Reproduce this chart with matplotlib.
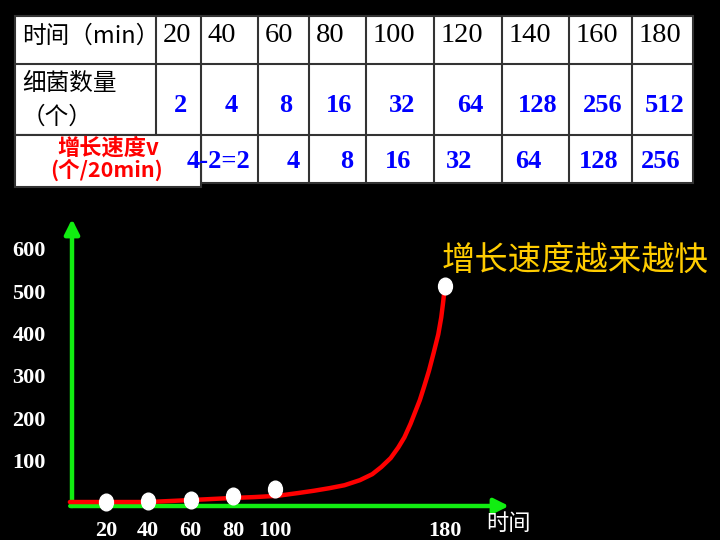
import numpy as np
import matplotlib
matplotlib.use("Agg")
import matplotlib.pyplot as plt
from matplotlib.path import Path
from matplotlib.patches import Rectangle

# table data
times = [20, 40, 60, 80, 100, 120, 140, 160, 180]
counts = [2, 4, 8, 16, 32, 64, 128, 256, 512]
rates = ["4-2=2", "4", "8", "16", "32", "64", "128", "256"]

# points shown on the chart
dot_t = [20, 40, 60, 80, 100, 180]
dot_n = [2, 4, 8, 16, 32, 512]

# red curve (minutes, count)
curve_t = [3, 20, 40, 60, 80, 90, 101, 111, 118.3, 125.5, 132.7, 140, 145.8,
           150.1, 154.5, 158.1, 161, 163.9, 166.1, 168.3, 170.4, 172.6, 174.8,
           177, 178.4, 179.2, 180]
curve_n = [2.4, 2.4, 2.4, 7, 12, 14, 17, 23.7, 29, 35, 42, 54, 68,
           85, 106, 131, 155, 187, 215, 243, 276, 312, 354,
           398, 438, 470, 505]

y_ticks = [100, 200, 300, 400, 500, 600]

CJK = ["Noto Sans CJK SC", "DejaVu Sans"]
SERIF = "Liberation Serif"
GREEN = "#11ee11"
BLUE = "#0000ff"

fig = plt.figure(figsize=(7.2, 5.4), dpi=100, facecolor="black")

# overlay in pixel coordinates for the table and free text
ov = fig.add_axes([0, 0, 1, 1])
ov.set_xlim(0, 720)
ov.set_ylim(540, 0)
ov.axis("off")
ov.set_zorder(1)
ov.patch.set_alpha(0)

# table layout
col_edges = [15, 156, 201, 258, 309, 366, 434, 502, 569, 632, 693]
row_edges = [16, 64, 135, 183]
edge = "#333333"

ov.add_patch(Rectangle((col_edges[0], row_edges[0]), col_edges[-1] - col_edges[0],
                       row_edges[-1] - row_edges[0], facecolor="white",
                       edgecolor=edge, lw=1.5))
for y in row_edges[1:3]:
    ov.plot([col_edges[0], col_edges[-1]], [y, y], color=edge, lw=1.5)
ov.plot([col_edges[1], col_edges[1]], [row_edges[0], row_edges[2]], color=edge, lw=1.5)
for x in col_edges[2:-1]:
    ov.plot([x, x], [row_edges[0], row_edges[-1]], color=edge, lw=1.5)

# header row
ov.text(22, 36, "时间（min）", family=CJK, fontsize=17, color="black",
        ha="left", va="center")
for i, t in enumerate(times):
    ov.text(col_edges[i + 1] + 7, 36, str(t), family=SERIF, fontsize=20.5,
            color="black", ha="left", va="center")

# counts row
ov.text(22, 83, "细菌数量", family=CJK, fontsize=17, color="black",
        ha="left", va="center")
ov.text(22, 117, "（个）", family=CJK, fontsize=17, color="black",
        ha="left", va="center")
for i, n in enumerate(counts):
    xc = (col_edges[i + 1] + col_edges[i + 2]) / 2
    ov.text(xc + 2, 105, str(n), family=SERIF, fontsize=19, weight="bold",
            color=BLUE, ha="center", va="center")

# rate row (first cell drawn as a separate box)
ov.add_patch(Rectangle((15, 135), 186, 52, facecolor="white",
                       edgecolor=edge, lw=1.5, zorder=3))
ov.text(108, 148, "增长速度v", family=CJK, fontsize=16, weight="bold",
        color="red", ha="center", va="center", zorder=4)
ov.text(107, 170, "(个/20min)", family=CJK, fontsize=15.5, weight="bold",
        color="red", ha="center", va="center", zorder=4)
rate_dx = [-11, 10, 9, -2, -9, -7, -2, -2]
for i, r in enumerate(rates):
    xc = (col_edges[i + 2] + col_edges[i + 3]) / 2
    ov.text(xc + rate_dx[i], 161, r, family=SERIF, fontsize=19, weight="bold",
            color=BLUE, ha="center", va="center", zorder=5)

ov.text(442, 260, "增长速度越来越快", family=CJK, fontsize=24, color="#ffcc00",
        ha="left", va="center")
ov.text(486, 523, "时间", family=CJK, fontsize=16, color="white",
        ha="left", va="center")

# chart
ax = fig.add_axes([72 / 720, (540 - 506) / 540, (509 - 72) / 720, (506 - 219) / 540])
ax.set_facecolor("black")
ax.set_xlim(4, 210.4)
ax.set_ylim(-7, 670)
for s in ax.spines.values():
    s.set_visible(False)

arrow = dict(arrowstyle="-|>", color=GREEN, lw=3.2, mutation_scale=22,
             shrinkA=0, shrinkB=0)
ax.annotate("", xy=(0, 1), xytext=(0, 0), xycoords="axes fraction",
            textcoords="axes fraction", arrowprops=arrow)
ax.annotate("", xy=(1, 0), xytext=(-0.004, 0), xycoords="axes fraction",
            textcoords="axes fraction", arrowprops=arrow)

ax.plot(curve_t, curve_n, color="red", lw=3.2, solid_capstyle="round",
        solid_joinstyle="round", clip_on=False, zorder=3)

circ = Path.unit_circle()
egg = Path(circ.vertices * [1, 1.2], circ.codes)
ax.plot(dot_t, dot_n, ls="none", marker=egg, ms=12, color="white",
        mec="white", clip_on=False, zorder=4)

ax.set_xticks(dot_t)
ax.set_xticklabels([str(t) for t in dot_t], family=SERIF, weight="bold",
                   fontsize=16, color="white")
ax.set_yticks(y_ticks)
ax.set_yticklabels([str(v) for v in y_ticks], family=SERIF, weight="bold",
                   fontsize=16, color="white")
ax.tick_params(axis="x", length=0, pad=11)
ax.tick_params(axis="y", length=0, pad=19)

fig.savefig("out.png", dpi=100, facecolor="black")
